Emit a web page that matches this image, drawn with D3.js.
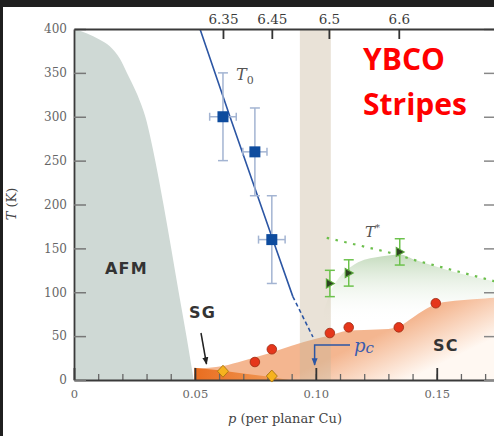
<!DOCTYPE html>
<html>
<head>
<meta charset="utf-8">
<script src="https://cdn.jsdelivr.net/npm/d3@7/dist/d3.min.js"></script>
<style>
  html, body { margin: 0; padding: 0; background: #fff; }
  svg { display: block; }
</style>
</head>
<body>
<svg id="chart" width="494" height="436"></svg>
<script>
// ---- phase diagram data (p = holes per planar Cu, T in kelvin) ----
const afmBoundary = [[0,400],[0.0054,395],[0.0105,388],[0.0149,380],[0.019,366],[0.0219,350],[0.0262,325],
  [0.0295,300],[0.0336,250],[0.037,200],[0.0402,150],[0.0433,100],[0.0465,50],[0.0495,0]];
const scBoundary = [[0.05,13],[0.0616,16],[0.07,22],[0.08,30],[0.09,39],[0.10,47],[0.106,51],[0.113,56],
  [0.12,57],[0.13,58],[0.135,62],[0.14,71],[0.145,80],[0.15,87],[0.16,91],[0.17,93],[0.176,94]];
const sgBoundary = [[0.0497,14],[0.06,11],[0.07,7.5],[0.08,4],[0.089,0]];
const pseudogapTop = [[0.1035,80],[0.106,100],[0.11,118],[0.115,130],[0.12,137],[0.125,140],[0.13,142],
  [0.135,143],[0.14,138],[0.15,129],[0.16,121],[0.168,116],[0.176,111]];
const tStarLine = [[0.1045,162],[0.12,152],[0.1306,145],[0.1417,136],[0.15,130],[0.161,122],[0.176,111]];
const t0Solid = [[0.0521,400],[0.0645,300],[0.0822,160],[0.0905,95]];
const t0Dashed = [[0.0905,95],[0.0988,49]];
const stripeBand = [0.0934, 0.1062];

// T0 markers: p, T, error in T, error in p
const t0P = [0.0616, 0.0748, 0.0818];
const t0T = [300, 260, 160];
const t0ErrT = [50, 50, 50];
const t0ErrP = [0.0055, 0.005, 0.0055];
// T* markers
const tStarP = [0.1058, 0.1136, 0.1347];
const tStarT = [110, 122, 146];
const tStarErr = [15, 15, 15];
// superconducting Tc points
const tcP = [0.0748, 0.0818, 0.1058, 0.1136, 0.1343, 0.1496];
const tcT = [20.5, 35, 53.5, 60, 60, 87.5];
// spin-glass points
const sgP = [0.0616, 0.0818];
const sgT = [10, 4.5];

// axis ticks
const bottomTicks = [0, 0.05, 0.10, 0.15];
const bottomLabels = ["0", "0.05", "0.10", "0.15"];
const minorTicks = d3.range(1, 18).map(i => i / 100);
const leftTicks = [0, 50, 100, 150, 200, 250, 300, 350, 400];
const topTickP = [0.0616, 0.0818, 0.1054, 0.1343];
const topLabels = ["6.35", "6.45", "6.5", "6.6"];

// ---- layout ----
const svg = d3.select("#chart");
const x = d3.scaleLinear().domain([0, 0.1745]).range([74, 496]);
const y = d3.scaleLinear().domain([0, 400]).range([380, 29]);
const line = d3.line().x(d => x(d[0])).y(d => y(d[1]));
const curve = d3.line().x(d => x(d[0])).y(d => y(d[1])).curve(d3.curveMonotoneX);

const defs = svg.append("defs");
defs.append("clipPath").attr("id", "plotClip")
  .append("rect").attr("x", 74).attr("y", 29).attr("width", 422).attr("height", 351);

const scGrad = defs.append("linearGradient").attr("id", "scGrad")
  .attr("gradientUnits", "userSpaceOnUse")
  .attr("x1", 455).attr("y1", 298).attr("x2", 478).attr("y2", 346);
scGrad.append("stop").attr("offset", 0).attr("stop-color", "#f4b690");
scGrad.append("stop").attr("offset", 1).attr("stop-color", "#fff8f2");

const sgGrad = defs.append("linearGradient").attr("id", "sgGrad");
sgGrad.append("stop").attr("offset", 0).attr("stop-color", "#e96d1f");
sgGrad.append("stop").attr("offset", 1).attr("stop-color", "#f2a060");

const pgGrad = defs.append("linearGradient").attr("id", "pgGrad")
  .attr("gradientUnits", "userSpaceOnUse")
  .attr("x1", 0).attr("y1", y(142)).attr("x2", 0).attr("y2", y(66));
pgGrad.append("stop").attr("offset", 0).attr("stop-color", "#c6dcbf");
pgGrad.append("stop").attr("offset", 1).attr("stop-color", "#ffffff").attr("stop-opacity", 0);

const plot = svg.append("g").attr("clip-path", "url(#plotClip)");

// antiferromagnetic dome
plot.append("path")
  .attr("d", curve(afmBoundary) + `L${x(0)},${y(0)}Z`)
  .attr("fill", "#cfd9d5");

// pseudogap region below T*
plot.append("path")
  .attr("d", curve(pseudogapTop) + `L${x(0.176)},${y(60)}L${x(0.1035)},${y(50)}Z`)
  .attr("fill", "url(#pgGrad)");

// superconducting dome
plot.append("path")
  .attr("d", curve(scBoundary) + `L${x(0.176)},${y(0)}L${x(0.05)},${y(0)}Z`)
  .attr("fill", "url(#scGrad)");

// spin-glass wedge
plot.append("path")
  .attr("d", line(sgBoundary) + `L${x(0.0497)},${y(0)}Z`)
  .attr("fill", "url(#sgGrad)");

// stripe-ordered doping band
plot.append("rect")
  .attr("x", x(stripeBand[0])).attr("y", y(400))
  .attr("width", x(stripeBand[1]) - x(stripeBand[0])).attr("height", y(0) - y(400))
  .attr("fill", "#c9b79b").attr("opacity", 0.4);

// T0 line
plot.append("path").attr("d", line(t0Solid))
  .attr("fill", "none").attr("stroke", "#2c56a4").attr("stroke-width", 1.6);
plot.append("path").attr("d", line(t0Dashed))
  .attr("fill", "none").attr("stroke", "#2c56a4").attr("stroke-width", 1.6)
  .attr("stroke-dasharray", "4,3");

// T* dotted line
plot.append("path").attr("d", curve(tStarLine))
  .attr("fill", "none").attr("stroke", "#6cbf4c").attr("stroke-width", 2.2)
  .attr("stroke-dasharray", "2.5,6.5");

// ---- axes ----
const axisColor = "#3a3a3a";
function styleAxis(g, labelColor, size) {
  g.select(".domain").attr("stroke", axisColor).attr("stroke-width", 1.8);
  g.selectAll(".tick line").attr("stroke", "#555").attr("stroke-width", 1.5);
  g.selectAll(".tick text").attr("fill", labelColor)
    .attr("font-family", "DejaVu Serif").attr("font-size", size);
}

svg.append("g").attr("transform", "translate(0,380)")
  .call(d3.axisBottom(x).tickValues(minorTicks).tickSize(-6).tickSizeOuter(0).tickFormat(""))
  .call(g => { g.select(".domain").remove(); g.selectAll(".tick line").attr("stroke", "#666").attr("stroke-width", 1.3); });

const bottomAxis = svg.append("g").attr("transform", "translate(0,380)")
  .call(d3.axisBottom(x).tickValues(bottomTicks).tickSize(-12).tickSizeOuter(0).tickPadding(10)
    .tickFormat((d, i) => bottomLabels[i]));
styleAxis(bottomAxis, "#666", 11.5);
bottomAxis.selectAll(".tick line").attr("stroke", "#333").attr("stroke-width", 1.8);

const leftAxis = svg.append("g").attr("transform", "translate(74,0)")
  .call(d3.axisLeft(y).tickValues(leftTicks).tickSize(-12).tickSizeOuter(0).tickPadding(7));
styleAxis(leftAxis, "#666", 12);
leftAxis.selectAll(".tick line").attr("stroke", "#777");

const rightAxis = svg.append("g").attr("transform", "translate(496,0)")
  .call(d3.axisRight(y).tickValues(leftTicks).tickSize(-12).tickSizeOuter(0).tickFormat(""));
styleAxis(rightAxis, "#666", 12);
rightAxis.selectAll(".tick line").attr("stroke", "#888");

const topAxis = svg.append("g").attr("transform", "translate(0,29)")
  .call(d3.axisTop(x).tickValues(topTickP).tickSize(-10).tickSizeOuter(0).tickPadding(5)
    .tickFormat((d, i) => topLabels[i]));
styleAxis(topAxis, "#3a3a3a", 13.5);
topAxis.selectAll(".tick line").attr("stroke", "#333").attr("stroke-width", 1.8);

// ---- markers ----
const marks = svg.append("g");

// T0 error bars and squares
t0P.forEach((p, i) => {
  const g = marks.append("g").attr("stroke", "#a3b4d2").attr("stroke-width", 1.5);
  const cx = x(p), cy = y(t0T[i]);
  const y1 = y(t0T[i] + t0ErrT[i]), y2 = y(t0T[i] - t0ErrT[i]);
  const x1 = x(p - t0ErrP[i]), x2 = x(p + t0ErrP[i]);
  g.append("line").attr("x1", cx).attr("x2", cx).attr("y1", y1).attr("y2", y2);
  g.append("line").attr("x1", cx - 5).attr("x2", cx + 5).attr("y1", y1).attr("y2", y1);
  g.append("line").attr("x1", cx - 5).attr("x2", cx + 5).attr("y1", y2).attr("y2", y2);
  g.append("line").attr("x1", x1).attr("x2", x2).attr("y1", cy).attr("y2", cy);
  g.append("line").attr("x1", x1).attr("x2", x1).attr("y1", cy - 4).attr("y2", cy + 4);
  g.append("line").attr("x1", x2).attr("x2", x2).attr("y1", cy - 4).attr("y2", cy + 4);
  marks.append("rect").attr("x", cx - 5.5).attr("y", cy - 5.5).attr("width", 11).attr("height", 11)
    .attr("fill", "#0e4c9e");
});

// T* error bars and triangles
tStarP.forEach((p, i) => {
  const g = marks.append("g").attr("stroke", "#6cc24c").attr("stroke-width", 1.5);
  const cx = x(p), cy = y(tStarT[i]);
  const y1 = y(tStarT[i] + tStarErr[i]), y2 = y(tStarT[i] - tStarErr[i]);
  g.append("line").attr("x1", cx).attr("x2", cx).attr("y1", y1).attr("y2", y2);
  g.append("line").attr("x1", cx - 5).attr("x2", cx + 5).attr("y1", y1).attr("y2", y1);
  g.append("line").attr("x1", cx - 5).attr("x2", cx + 5).attr("y1", y2).attr("y2", y2);
  marks.append("path")
    .attr("d", `M${cx - 3.5},${cy - 4.5}L${cx + 4.5},${cy}L${cx - 3.5},${cy + 4.5}Z`)
    .attr("fill", "#2c4220").attr("stroke", "#5aa83c").attr("stroke-width", 1.1);
});

// Tc circles
marks.selectAll(".tc").data(tcP).join("circle")
  .attr("cx", d => x(d)).attr("cy", (d, i) => y(tcT[i])).attr("r", 4.8)
  .attr("fill", "#e5361b").attr("stroke", "#9a2a12").attr("stroke-width", 0.8);

// spin-glass diamonds
marks.selectAll(".sg").data(sgP).join("path")
  .attr("d", (d, i) => {
    const cx = x(d), cy = y(sgT[i]);
    return `M${cx},${cy - 6}L${cx + 5.5},${cy}L${cx},${cy + 6}L${cx - 5.5},${cy}Z`;
  })
  .attr("fill", "#f6b21e").attr("stroke", "#a87512").attr("stroke-width", 0.9);

// ---- annotations ----
const labels = svg.append("g");
const phaseLabel = (t, px, py) => labels.append("text").attr("x", px).attr("y", py).text(t)
  .attr("font-family", "DejaVu Sans").attr("font-weight", "bold").attr("font-size", 16)
  .attr("letter-spacing", 1.2).attr("fill", "#333");
phaseLabel("AFM", 105, 274);
phaseLabel("SG", 189, 318);
phaseLabel("SC", 433, 351);

// SG arrow
defs.append("marker").attr("id", "headDark").attr("viewBox", "0 0 10 10")
  .attr("refX", 9).attr("refY", 5).attr("markerWidth", 5).attr("markerHeight", 7)
  .attr("orient", "auto-start-reverse")
  .append("path").attr("d", "M0,1L10,5L0,9Z").attr("fill", "#222");
labels.append("line").attr("x1", 201).attr("y1", 333).attr("x2", 206.5).attr("y2", 364)
  .attr("stroke", "#222").attr("stroke-width", 1.5).attr("marker-end", "url(#headDark)");

// p_c bracket
defs.append("marker").attr("id", "headBlue").attr("viewBox", "0 0 10 10")
  .attr("refX", 9).attr("refY", 5).attr("markerWidth", 5).attr("markerHeight", 5)
  .attr("orient", "auto")
  .append("path").attr("d", "M0,1L10,5L0,9Z").attr("fill", "#2c56a4");
labels.append("path").attr("d", `M350,345L${x(0.0995)},345L${x(0.0995)},365`)
  .attr("fill", "none").attr("stroke", "#2c56a4").attr("stroke-width", 1.5)
  .attr("marker-end", "url(#headBlue)");
const pc = labels.append("text").attr("x", 354).attr("y", 352)
  .attr("font-family", "DejaVu Serif").attr("font-style", "italic").attr("font-size", 18).attr("fill", "#3a5cae");
pc.append("tspan").text("p");
pc.append("tspan").attr("font-size", 15).attr("dy", 1).text("c");

// T0 and T* labels
const t0Label = labels.append("text").attr("x", 236).attr("y", 80)
  .attr("font-family", "DejaVu Serif").attr("font-style", "italic").attr("font-size", 16).attr("fill", "#555");
t0Label.append("tspan").text("T");
t0Label.append("tspan").attr("font-style", "normal").attr("font-size", 11).attr("dy", 4).text("0");
const tsLabel = labels.append("text").attr("x", 365).attr("y", 237)
  .attr("font-family", "DejaVu Serif").attr("font-style", "italic").attr("font-size", 15).attr("fill", "#555");
tsLabel.append("tspan").text("T");
tsLabel.append("tspan").attr("font-style", "normal").attr("font-size", 10).attr("dy", -6).text("*");

// axis titles
const xTitle = labels.append("text").attr("x", 285).attr("y", 423).attr("text-anchor", "middle")
  .attr("font-family", "DejaVu Serif").attr("font-size", 13).attr("fill", "#444");
xTitle.append("tspan").attr("font-style", "italic").text("p");
xTitle.append("tspan").text(" (per planar Cu)");
const yTitle = labels.append("text").attr("transform", "translate(16,204) rotate(-90)")
  .attr("text-anchor", "middle").attr("font-family", "DejaVu Serif").attr("font-size", 13).attr("fill", "#444");
yTitle.append("tspan").attr("font-style", "italic").text("T");
yTitle.append("tspan").text(" (K)");

// title
const title = svg.append("g").attr("fill", "#ff0000")
  .attr("font-family", "Open Sans").attr("font-weight", "bold").attr("font-size", 30);
title.append("text").attr("x", 363).attr("y", 70).text("YBCO");
title.append("text").attr("x", 363).attr("y", 115).text("Stripes");

// dark frame edges
svg.append("rect").attr("x", 0).attr("y", 0).attr("width", 494).attr("height", 7).attr("fill", "#1f1f1f");
svg.append("rect").attr("x", 0).attr("y", 0).attr("width", 3).attr("height", 436).attr("fill", "#1f1f1f");
</script>
</body>
</html>
